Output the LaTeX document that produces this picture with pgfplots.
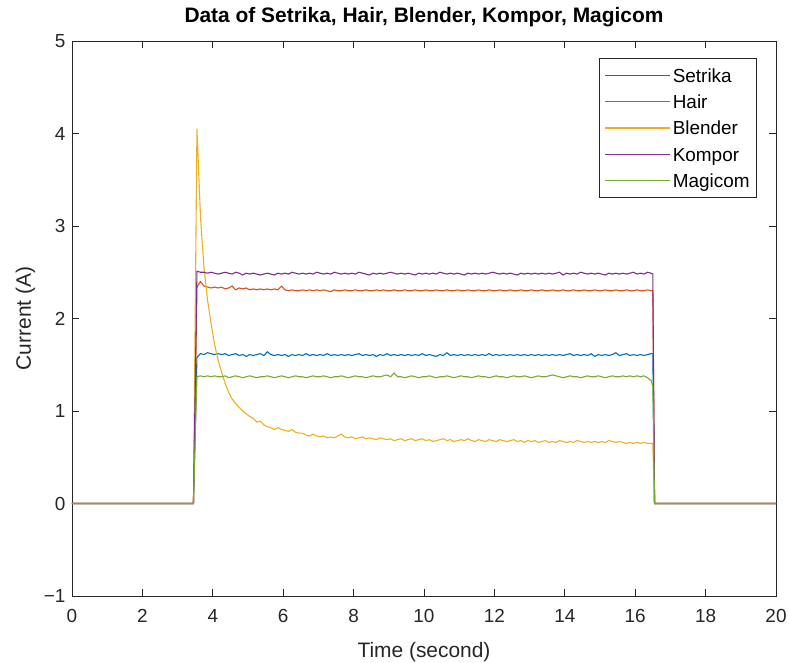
\documentclass[border=0pt]{standalone}
\usepackage{pgfplots}
\pgfplotsset{compat=1.18}
\usepackage{pgfplotstable}
\usepackage{fontspec}
\setmainfont{Liberation Sans}
\definecolor{c1}{rgb}{0,0.447,0.741}
\definecolor{c2}{rgb}{0.85,0.325,0.098}
\definecolor{c3}{rgb}{0.929,0.694,0.125}
\definecolor{c4}{rgb}{0.494,0.184,0.556}
\definecolor{c5}{rgb}{0.466,0.674,0.188}
\definecolor{axc}{rgb}{0.15,0.15,0.15}

\pgfplotstableread{
t s h b k m
0 0 0 0 0 0
3.45 0 0 0 0 0
3.55 1.58 2.34 4.05 2.51 1.37
3.65 1.62 2.40 3.10 2.50 1.38
3.75 1.61 2.35 2.55 2.50 1.37
3.85 1.63 2.34 2.20 2.49 1.38
3.95 1.62 2.33 1.95 2.50 1.37
4.05 1.61 2.34 1.72 2.49 1.38
4.15 1.62 2.33 1.55 2.48 1.37
4.25 1.61 2.34 1.42 2.49 1.37
4.35 1.62 2.32 1.30 2.50 1.38
4.45 1.60 2.33 1.20 2.49 1.36
4.55 1.61 2.35 1.13 2.48 1.37
4.65 1.62 2.31 1.08 2.50 1.38
4.75 1.60 2.33 1.04 2.49 1.37
4.85 1.61 2.32 1.00 2.47 1.36
4.95 1.59 2.33 0.97 2.49 1.37
5.05 1.61 2.31 0.94 2.48 1.38
5.15 1.60 2.32 0.92 2.49 1.37
5.25 1.61 2.31 0.88 2.48 1.36
5.35 1.62 2.32 0.89 2.47 1.37
5.45 1.60 2.31 0.85 2.48 1.37
5.55 1.64 2.32 0.83 2.49 1.38
5.65 1.61 2.31 0.82 2.48 1.37
5.75 1.60 2.32 0.80 2.47 1.36
5.85 1.61 2.31 0.82 2.49 1.37
5.95 1.60 2.35 0.80 2.48 1.38
6.05 1.61 2.31 0.79 2.49 1.37
6.15 1.59 2.30 0.78 2.48 1.36
6.25 1.61 2.31 0.80 2.50 1.37
6.35 1.60 2.30 0.77 2.49 1.38
6.45 1.61 2.30 0.76 2.48 1.37
6.55 1.60 2.31 0.76 2.49 1.37
6.65 1.62 2.30 0.74 2.48 1.36
6.75 1.60 2.31 0.73 2.49 1.37
6.85 1.61 2.30 0.75 2.48 1.38
6.95 1.60 2.31 0.73 2.50 1.37
7.05 1.61 2.30 0.72 2.49 1.37
7.15 1.60 2.31 0.73 2.48 1.38
7.25 1.62 2.30 0.71 2.49 1.37
7.35 1.60 2.29 0.72 2.48 1.36
7.45 1.61 2.31 0.71 2.50 1.37
7.55 1.60 2.30 0.73 2.49 1.37
7.65 1.61 2.30 0.75 2.48 1.38
7.75 1.60 2.31 0.72 2.49 1.37
7.85 1.61 2.30 0.71 2.48 1.36
7.95 1.60 2.30 0.72 2.49 1.37
8.05 1.61 2.31 0.70 2.48 1.38
8.15 1.62 2.30 0.71 2.50 1.37
8.25 1.60 2.30 0.72 2.49 1.37
8.35 1.61 2.31 0.70 2.48 1.36
8.45 1.60 2.30 0.71 2.47 1.37
8.55 1.61 2.30 0.70 2.49 1.38
8.65 1.59 2.31 0.69 2.48 1.37
8.75 1.61 2.30 0.71 2.49 1.37
8.85 1.60 2.31 0.70 2.48 1.38
8.95 1.62 2.30 0.69 2.49 1.39
9.05 1.60 2.30 0.70 2.50 1.37
9.15 1.61 2.31 0.68 2.49 1.41
9.25 1.60 2.30 0.69 2.48 1.37
9.35 1.61 2.30 0.70 2.49 1.37
9.45 1.60 2.31 0.68 2.48 1.36
9.55 1.61 2.30 0.69 2.49 1.37
9.65 1.60 2.30 0.70 2.48 1.38
9.75 1.61 2.31 0.68 2.47 1.37
9.85 1.60 2.30 0.69 2.49 1.36
9.95 1.62 2.30 0.70 2.48 1.37
10.05 1.60 2.31 0.68 2.49 1.37
10.15 1.61 2.30 0.69 2.48 1.38
10.25 1.60 2.30 0.67 2.49 1.37
10.35 1.59 2.31 0.68 2.48 1.36
10.45 1.61 2.30 0.69 2.50 1.37
10.55 1.60 2.30 0.70 2.49 1.37
10.65 1.63 2.31 0.68 2.48 1.38
10.75 1.60 2.30 0.69 2.49 1.37
10.85 1.61 2.30 0.67 2.48 1.36
10.95 1.60 2.31 0.68 2.49 1.37
11.05 1.61 2.30 0.69 2.48 1.38
11.15 1.60 2.30 0.68 2.47 1.37
11.25 1.61 2.31 0.70 2.49 1.37
11.35 1.60 2.30 0.68 2.48 1.36
11.45 1.61 2.30 0.67 2.49 1.37
11.55 1.60 2.31 0.69 2.48 1.38
11.65 1.61 2.30 0.68 2.49 1.37
11.75 1.60 2.30 0.67 2.48 1.37
11.85 1.62 2.31 0.69 2.49 1.36
11.95 1.60 2.30 0.68 2.50 1.37
12.05 1.61 2.30 0.67 2.49 1.38
12.15 1.60 2.31 0.69 2.48 1.37
12.25 1.61 2.30 0.68 2.49 1.37
12.35 1.60 2.30 0.67 2.48 1.36
12.45 1.61 2.31 0.68 2.49 1.37
12.55 1.60 2.30 0.69 2.48 1.38
12.65 1.61 2.30 0.67 2.47 1.37
12.75 1.60 2.31 0.68 2.49 1.37
12.85 1.61 2.30 0.66 2.48 1.38
12.95 1.60 2.30 0.68 2.49 1.37
13.05 1.61 2.31 0.67 2.48 1.36
13.15 1.60 2.30 0.68 2.49 1.37
13.25 1.61 2.30 0.66 2.48 1.38
13.35 1.60 2.31 0.67 2.49 1.37
13.45 1.61 2.30 0.68 2.48 1.37
13.55 1.60 2.30 0.66 2.49 1.38
13.65 1.61 2.31 0.67 2.48 1.39
13.75 1.60 2.30 0.66 2.49 1.38
13.85 1.61 2.30 0.68 2.50 1.37
13.95 1.60 2.31 0.67 2.47 1.36
14.05 1.61 2.30 0.66 2.49 1.37
14.15 1.62 2.30 0.67 2.48 1.38
14.25 1.60 2.31 0.66 2.49 1.37
14.35 1.61 2.30 0.68 2.48 1.37
14.45 1.60 2.30 0.67 2.50 1.36
14.55 1.61 2.31 0.66 2.49 1.37
14.65 1.60 2.30 0.67 2.48 1.38
14.75 1.62 2.30 0.66 2.49 1.37
14.85 1.59 2.31 0.67 2.48 1.37
14.95 1.61 2.30 0.66 2.49 1.38
15.05 1.60 2.30 0.67 2.48 1.37
15.15 1.61 2.31 0.66 2.47 1.36
15.25 1.60 2.30 0.68 2.49 1.37
15.35 1.61 2.30 0.67 2.48 1.38
15.45 1.63 2.31 0.66 2.49 1.37
15.55 1.60 2.30 0.67 2.48 1.37
15.65 1.61 2.30 0.66 2.49 1.38
15.75 1.62 2.31 0.65 2.48 1.37
15.85 1.60 2.30 0.66 2.49 1.38
15.95 1.61 2.30 0.65 2.50 1.37
16.05 1.60 2.31 0.66 2.48 1.38
16.15 1.61 2.30 0.65 2.49 1.37
16.25 1.60 2.30 0.66 2.48 1.38
16.35 1.61 2.31 0.65 2.50 1.36
16.45 1.62 2.30 0.65 2.49 1.33
16.50 1.62 2.30 0.65 2.48 1.27
16.55 0 0 0 0 0
20 0 0 0 0 0
}\data

\begin{document}
\begin{tikzpicture}
\begin{axis}[
  name=ax,
  scale only axis,
  width=704bp, height=555bp,
  xmin=0, xmax=20, ymin=-1, ymax=5,
  xtick={0,2,...,20}, ytick={-1,0,...,5},
  yticklabels={−1,0,1,2,3,4,5},
  tick align=inside,
  major tick length=7bp,
  minor tick num=0,
  axis line style={axc, line width=0.8bp},
  every tick/.style={axc, line width=0.8bp},
  /pgf/number format/assume math mode=true,
  tick label style={font=\fontsize{19}{22}\selectfont, text=axc},
  xticklabel style={yshift=-10bp},
  yticklabel style={xshift=-3bp},
  xlabel={Time (second)},
  ylabel={Current (A)},
  xlabel style={font=\fontsize{21}{25}\selectfont, text=axc, at={(axis description cs:0.5,0)}, anchor=base, yshift=-61bp},
  ylabel style={font=\fontsize{21}{25}\selectfont, text=axc, at={(axis description cs:-0.0583,0.5)}, anchor=base},
  title={Data of Setrika, Hair, Blender, Kompor, Magicom},
  title style={font=\bfseries\fontsize{21}{25}\selectfont, text=black, at={(axis description cs:0.5,1)}, anchor=base, yshift=13bp},
  legend cell align=left,
  legend image code/.code={\draw[#1, line width=1.2bp] (0bp,0bp) -- (65bp,0bp);},
  legend style={at={(axis description cs:1,1)}, anchor=north east, xshift=-19bp, yshift=-17bp,
    draw=axc, line width=0.8bp, fill=white, font=\fontsize{19}{22}\selectfont, text=black,
    inner xsep=5bp, inner ysep=4bp, row sep=0bp,
    nodes={inner xsep=2bp, inner ysep=4bp, text height=16bp, text depth=2.25bp}},
]
\addplot[c1, line width=1.1bp] table[x=t, y=s]{\data};
\addlegendentry{Setrika}
\addplot[c2, line width=1.1bp] table[x=t, y=h]{\data};
\addlegendentry{Hair}
\addplot[c3, line width=1.1bp] table[x=t, y=b]{\data};
\addlegendentry{Blender}
\addplot[c4, line width=1.1bp] table[x=t, y=k]{\data};
\addlegendentry{Kompor}
\addplot[c5, line width=1.1bp] table[x=t, y=m]{\data};
\addlegendentry{Magicom}
\end{axis}
\pgfresetboundingbox
\path[use as bounding box] ([xshift=-72bp,yshift=-67bp]ax.south west) rectangle ([xshift=13bp,yshift=41bp]ax.north east);
\end{tikzpicture}
\end{document}
